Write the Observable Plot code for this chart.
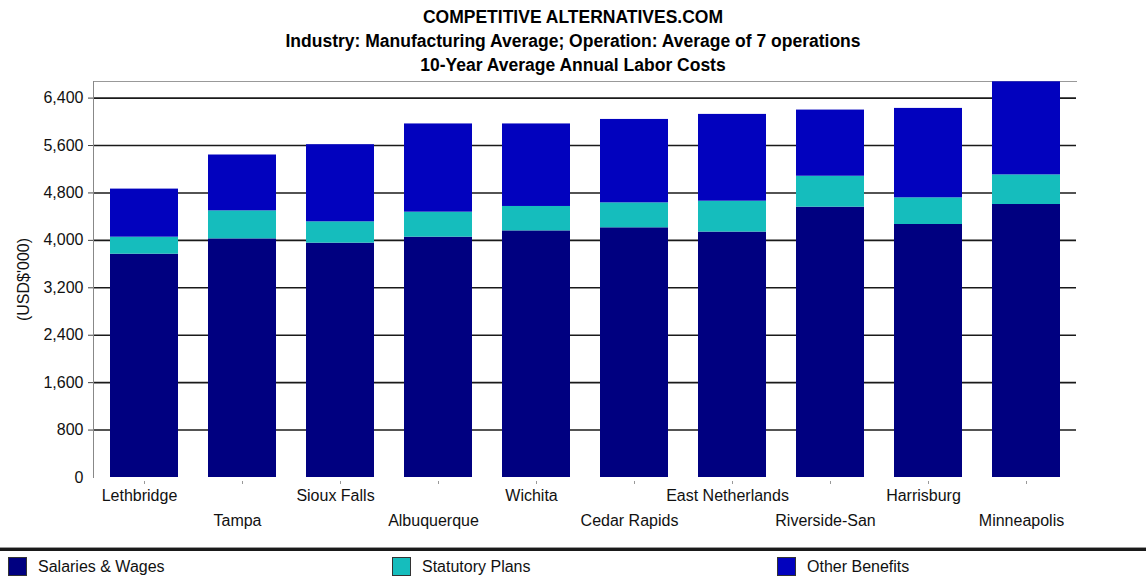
<!DOCTYPE html>
<html>
<head>
<meta charset="utf-8">
<script src="https://cdn.jsdelivr.net/npm/d3@7"></script>
<script src="https://cdn.jsdelivr.net/npm/@observablehq/plot@0.6"></script>
<style>
  html, body { margin: 0; padding: 0; background: #fff; }
  body { width: 1146px; height: 579px; overflow: hidden; font-family: "Liberation Sans", Arial, sans-serif; }
  #title { height: 72px; text-align: center; font-family: "Liberation Sans", Arial, sans-serif; font-weight: bold; font-size: 17.5px; line-height: 24px; padding-top: 5px; box-sizing: border-box; color: #000; }
  #chart { height: 476px; }
  #legend { position: relative; height: 31px; border-top: 3px solid #1a1a1a; box-shadow: 0 -1px 0 #999; box-sizing: border-box; }
  .item { position: absolute; top: 6px; display: flex; align-items: center; font-size: 16px; color: #111; }
  .sw { width: 19px; height: 19px; border: 1px solid #333; box-sizing: border-box; margin-right: 11px; }
</style>
</head>
<body>
<div id="title"></div>
<div id="chart"></div>
<div id="legend"></div>
<script>
const titleLines = [
  "COMPETITIVE ALTERNATIVES.COM",
  "Industry: Manufacturing Average; Operation: Average of 7 operations",
  "10-Year Average Annual Labor Costs"
];
const cities = ["Lethbridge", "Tampa", "Sioux Falls", "Albuquerque", "Wichita", "Cedar Rapids", "East Netherlands", "Riverside-San", "Harrisburg", "Minneapolis"];
const seriesNames = ["Salaries & Wages", "Statutory Plans", "Other Benefits"];
const seriesColors = ["#000080", "#15BDBD", "#0202BE"];
const salaries = [3767, 4025, 3953, 4054, 4160, 4212, 4140, 4560, 4268, 4605];
const statutory = [287, 473, 360, 422, 412, 421, 521, 522, 450, 500];
const otherBenefits = [811, 942, 1301, 1488, 1392, 1407, 1464, 1116, 1508, 1570];
const yTicks = [0, 800, 1600, 2400, 3200, 4000, 4800, 5600, 6400];
const yLabel = "(USD$'000)";

document.getElementById("title").innerHTML = titleLines.map(t => `<div>${t}</div>`).join("");

const seriesValues = [salaries, statutory, otherBenefits];
const data = [];
cities.forEach((c, i) => {
  seriesNames.forEach((s, j) => data.push({city: c, series: s, value: seriesValues[j][i]}));
});

const font = "'Liberation Sans', Arial, sans-serif";
const plot = Plot.plot({
  width: 1146,
  height: 476,
  marginTop: 9,
  marginBottom: 71,
  marginLeft: 93,
  marginRight: 70,
  style: {fontFamily: font, fontSize: "16px", color: "#111", background: "#fff"},
  x: {domain: cities, paddingInner: 0.31, paddingOuter: 0.155, axis: null},
  y: {domain: [0, 6680], axis: null},
  color: {domain: seriesNames, range: seriesColors},
  marks: [
    Plot.gridY(yTicks.filter(d => d > 0), {stroke: "#1a1a1a", strokeOpacity: 1, strokeWidth: 1.6}),
    Plot.frame({anchor: "top", stroke: "#999"}),
    Plot.frame({anchor: "left", stroke: "#888"}),
    Plot.barY(data, {x: "city", y: "value", fill: "series", order: seriesNames}),
    Plot.axisY({ticks: yTicks.filter(d => d > 0), tickFormat: d3.format(","), tickSize: 5, tickPadding: 5, stroke: "#444", label: null, fontSize: 16}),
    Plot.axisY({ticks: [0], tickFormat: d3.format(","), tickSize: 0, tickPadding: 10, label: yLabel, labelAnchor: "center", labelOffset: 76, labelArrow: "none", fontSize: 16}),
    Plot.axisX({ticks: cities, tickSize: 3, tickFormat: () => "", stroke: "#999", dy: 4, label: null}),
    Plot.text(cities.filter((d, i) => i % 2 === 0), {x: d => d, frameAnchor: "bottom", dx: -5, dy: 18, lineAnchor: "middle", fontSize: 16, fill: "#111"}),
    Plot.text(cities.filter((d, i) => i % 2 === 1), {x: d => d, frameAnchor: "bottom", dx: -5, dy: 43, lineAnchor: "middle", fontSize: 16, fill: "#111"})
  ]
});
document.getElementById("chart").appendChild(plot);

const legendX = [8, 392, 777];
document.getElementById("legend").innerHTML = seriesNames.map((s, i) =>
  `<div class="item" style="left:${legendX[i]}px"><div class="sw" style="background:${seriesColors[i]}"></div>${s}</div>`
).join("");
</script>
</body>
</html>
